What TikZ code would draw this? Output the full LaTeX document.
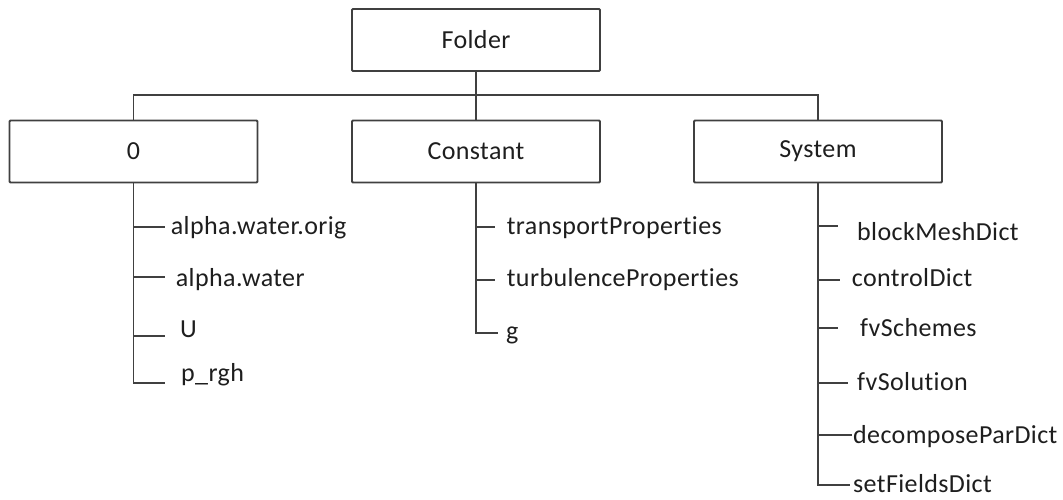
\documentclass[tikz,border=0pt]{standalone}
\usepackage{fontspec}
\setmainfont{Carlito}[Ligatures=NoCommon,LetterSpace=1.5]
\definecolor{linec}{HTML}{404040}
\definecolor{textc}{HTML}{1E1E1E}
\begin{document}
\begin{tikzpicture}[x=1pt,y=-1pt,
  fbox/.style={draw=linec,line width=1.8pt,rounded corners=1pt,minimum width=248pt,minimum height=62pt,inner sep=0pt,text=textc,font=\fontsize{26}{30}\selectfont},
  leaf/.style={anchor=base west,inner sep=0pt,text=textc,font=\fontsize{26}{30}\selectfont},
  conn/.style={draw=linec,line width=1.7pt}]
\useasboundingbox (0,0) rectangle (1063,499);
\node[fbox] (folder) at (476,40) {Folder};
\node[fbox] (zero) at (133.5,151.5) {0};
\node[fbox] (const) at (476,151.5) {Constant};
\node[fbox] (sys) at (818,151.5) {System};
\coordinate (bus) at (476,95);
\draw[conn] (folder.south) -- (bus);
\draw[conn] (zero.north) |- (bus) -| (sys.north);
\draw[conn] (bus) -- (const.north);
% 0 leaves
\coordinate (t01) at (165,226.7);
\coordinate (t02) at (165,276.7);
\coordinate (t03) at (165,336);
\coordinate (t04) at (165,383);
\node[leaf] (l01) at (170.7,234) {alpha.water.orig};
\node[leaf] (l02) at (175.7,286.7) {alpha.water};
\node[leaf] (l03) at (180,337.3) {U};
\node[leaf] (l04) at (181,381.7) {p\_rgh};
\draw[conn] (zero.south) |- (t04);
\draw[conn] (zero.south |- t01) -- (t01);
\draw[conn] (zero.south |- t02) -- (t02);
\draw[conn] (zero.south |- t03) -- (t03);
% Constant leaves
\coordinate (t11) at (495,226.7);
\coordinate (t12) at (495,280);
\coordinate (t13) at (498,333.3);
\node[leaf] (l11) at (506.7,234) {transportProperties};
\node[leaf] (l12) at (506.7,286.7) {turbulenceProperties};
\node[leaf] (l13) at (506,339.3) {g};
\draw[conn] (const.south) |- (t13);
\draw[conn] (const.south |- t11) -- (t11);
\draw[conn] (const.south |- t12) -- (t12);
% System leaves
\coordinate (t21) at (838,225.7);
\coordinate (t22) at (840,280);
\coordinate (t23) at (838,328);
\coordinate (t24) at (848,382.7);
\coordinate (t25) at (851.7,435);
\coordinate (t26) at (850,485);
\node[leaf] (l21) at (857,240.7) {blockMeshDict};
\node[leaf] (l22) at (851.7,286.7) {controlDict};
\node[leaf] (l23) at (860,336.7) {fvSchemes};
\node[leaf] (l24) at (857,390.7) {fvSolution};
\node[leaf] (l25) at (853,443.3) {decomposeParDict};
\node[leaf] (l26) at (853,492.5) {setFieldsDict};
\draw[conn] (sys.south) |- (t26);
\draw[conn] (sys.south |- t21) -- (t21);
\draw[conn] (sys.south |- t22) -- (t22);
\draw[conn] (sys.south |- t23) -- (t23);
\draw[conn] (sys.south |- t24) -- (t24);
\draw[conn] (sys.south |- t25) -- (t25);
\end{tikzpicture}
\end{document}
